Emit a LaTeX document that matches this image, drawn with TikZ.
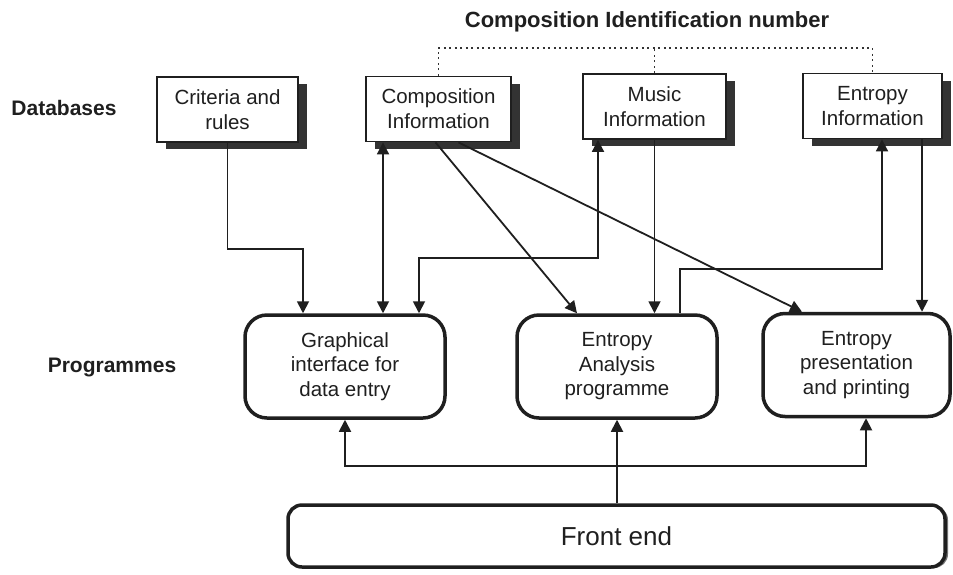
\documentclass[tikz,border=0pt]{standalone}
\usepackage{fontspec}
\setmainfont{Liberation Sans}
\usetikzlibrary{arrows.meta,shadows}
\begin{document}
\begin{tikzpicture}[x=1pt,y=-1pt,
  dbbox/.style={draw=black!88, line width=1.8pt, fill=white, align=center, inner sep=0pt,
    font=\fontsize{20.5}{25}\selectfont, text=black!88, minimum height=65pt,
    drop shadow={shadow xshift=9pt, shadow yshift=-7pt, fill=black!80, opacity=1}},
  progbox/.style={draw=black!88, line width=3.5pt, rounded corners=22pt, fill=white,
    align=center, inner sep=0pt, text=black!88,
    font=\fontsize{20.5}{24.5}\selectfont, minimum height=103pt},
  sidelabel/.style={font=\fontsize{21}{25}\selectfont\bfseries, text=black!88},
  link/.style={draw=black!88, line width=1.8pt},
  tip/.tip={Triangle[length=12pt,width=12pt]},
  arr/.style={link, -tip},
  biarr/.style={link, tip-tip},
  idlink/.style={draw=black!80, line width=1.9pt, dash pattern=on 1.9pt off 3.6pt}
]
\useasboundingbox[fill=white] (0,0) rectangle (953,574);

% row labels and heading
\node[sidelabel] (dblabel) at (64,108) {Databases};
\node[sidelabel] (proglabel) at (112,367) {Programmes};
\node[sidelabel, font=\fontsize{22}{26}\selectfont\bfseries] (idtitle) at (647,22) {Composition Identification number};

% databases
\node[dbbox, minimum width=141pt] (crit) at (227.5,109.5) {Criteria and\\rules};
\node[dbbox, minimum width=145pt] (comp) at (438.5,109) {Composition\\Information};
\node[dbbox, minimum width=143pt] (music) at (654.5,106.5) {Music\\Information};
\node[dbbox, minimum width=139pt] (entinfo) at (872.5,106) {Entropy\\Information};

% programmes
\node[progbox, minimum width=200pt] (gui) at (345,366.5) {Graphical\\interface for\\data entry};
\node[progbox, minimum width=200pt] (ana) at (617,366.5) {Entropy\\Analysis\\programme};
\node[progbox, minimum width=187pt] (pres) at (856.5,365) {Entropy\\presentation\\and printing};

% front end
\node[progbox, rounded corners=14pt, minimum width=657pt, minimum height=62pt,
  font=\fontsize{26}{30}\selectfont,
  drop shadow={shadow xshift=3pt, shadow yshift=-1pt, fill=black!55, opacity=1}]
  (front) at (616.5,536) {Front end};

% composition identification number links
\coordinate (idline) at (0,48);
\draw[idlink] (comp.north) -- (comp.north |- idline) -| (entinfo.north);
\draw[idlink] (music.north) -- (music.north |- idline);

% database to programme links
\draw[arr] (crit.south) -- ++(0,106) -| ([xshift=-42pt]gui.north);
\draw[biarr] ([xshift=38pt]gui.north) -- ([xshift=38pt]gui.north |- comp.south);
\draw[biarr] ([xshift=74pt]gui.north) -- ++(0,-55) -| ([xshift=-56.5pt]music.south);
\draw[arr] ([xshift=-3pt]comp.south) -- ([xshift=-40pt]ana.north);
\draw[arr] ([xshift=20pt]comp.south) -- ([xshift=-54.5pt]pres.north);
\draw[arr] (music.south) -- (music.south |- ana.north);
\draw[arr] ([xshift=63pt]ana.north) -- ++(0,-44) -| ([xshift=9.5pt]entinfo.south);
\draw[arr] ([xshift=49.5pt]entinfo.south) -- ([xshift=49.5pt]entinfo.south |- pres.north);

% front end to programmes
\draw[arr] (front.north -| ana.south) -- (ana.south);
\draw[biarr] (gui.south) |- ([yshift=37pt]front.north) -| ([xshift=9.5pt]pres.south);
\end{tikzpicture}
\end{document}
